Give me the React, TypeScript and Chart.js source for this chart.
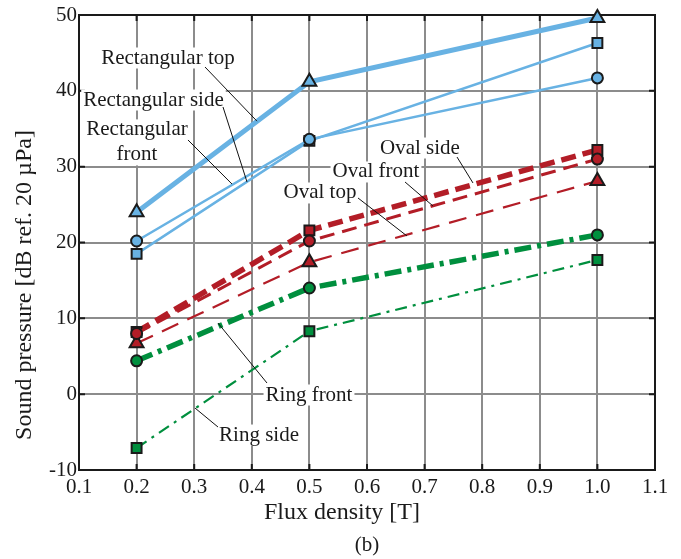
import React, { useEffect, useRef } from "react";
import { Chart, registerables } from "chart.js";

Chart.register(...registerables);

// ---- data ----
const fluxDensity = [0.2, 0.5, 1.0];
const rectTop = [24.0, 41.2, 49.6];
const rectSide = [20.2, 33.6, 41.7];
const rectFront = [18.5, 33.4, 46.3];
const ovalSide = [8.2, 21.6, 32.2];
const ovalFront = [8.0, 20.2, 31.0];
const ovalTop = [6.7, 17.4, 28.1];
const ringFront = [4.4, 14.0, 21.0];
const ringSide = [-7.1, 8.3, 17.7];

const xTicks = [0.1, 0.2, 0.3, 0.4, 0.5, 0.6, 0.7, 0.8, 0.9, 1.0, 1.1];
const yTicks = [-10, 0, 10, 20, 30, 40, 50];

const xTitle = "Flux density [T]";
const yTitle = "Sound pressure [dB ref. 20 \u00B5Pa]";
const subCaption = "(b)";

// annotation labels (data coordinates) with leader lines
const annotations = [
  { text: ["Rectangular top"], x: 0.2545, y: 44.33, from: [0.3188, 43.14], to: [0.409, 36.0] },
  { text: ["Rectangular side"], x: 0.2293, y: 38.79, from: [0.35, 37.87], to: [0.3917, 27.98] },
  { text: ["Rectangular", "front"], x: 0.2007, y: 33.2, from: [0.2892, 33.52], to: [0.3656, 27.71] },
  { text: ["Oval side"], x: 0.692, y: 32.46, from: [0.7563, 31.27], to: [0.784, 27.85] },
  { text: ["Oval front"], x: 0.6156, y: 29.3, from: [0.666, 27.98], to: [0.7146, 24.81] },
  { text: ["Oval top"], x: 0.5184, y: 26.53, from: [0.5844, 25.87], to: [0.6694, 20.86] },
  { text: ["Ring front"], x: 0.4993, y: -0.11, from: [0.4264, 1.47], to: [0.3413, 9.38] },
  { text: ["Ring side"], x: 0.4125, y: -5.39, from: [0.3413, -4.33], to: [0.3014, -1.83] },
];

const BLUE = "#68b2e3";
const RED = "#b31d27";
const GREEN = "#008f3e";
const EDGE = "#1a1a1a";
const FONT = '"Liberation Serif", "Times New Roman", serif';

const pts = (ys: number[]) => fluxDensity.map((x, i) => ({ x, y: ys[i] }));

const overlay = {
  id: "overlay",
  beforeDatasetsDraw(chart: any) {
    const { ctx, chartArea: a, scales } = chart;
    ctx.save();
    ctx.strokeStyle = EDGE;
    ctx.lineWidth = 2;
    ctx.strokeRect(a.left, a.top, a.right - a.left, a.bottom - a.top);
    const L = 6;
    ctx.beginPath();
    for (const v of xTicks) {
      const px = scales.x.getPixelForValue(v);
      ctx.moveTo(px, a.top);
      ctx.lineTo(px, a.top + L);
      ctx.moveTo(px, a.bottom);
      ctx.lineTo(px, a.bottom - L);
    }
    for (const v of yTicks) {
      const py = scales.y.getPixelForValue(v);
      ctx.moveTo(a.left, py);
      ctx.lineTo(a.left + L, py);
      ctx.moveTo(a.right, py);
      ctx.lineTo(a.right - L, py);
    }
    ctx.stroke();
    ctx.restore();
  },
  afterDatasetsDraw(chart: any) {
    const { ctx, chartArea: a, scales } = chart;
    const X = (v: number) => scales.x.getPixelForValue(v);
    const Y = (v: number) => scales.y.getPixelForValue(v);
    ctx.save();
    ctx.font = `21px ${FONT}`;
    ctx.textAlign = "center";
    ctx.textBaseline = "middle";
    const lh = 25;
    for (const an of annotations) {
      const cx = X(an.x);
      const cy = Y(an.y);
      const n = an.text.length;
      const w = Math.max(...an.text.map((t) => ctx.measureText(t).width));
      ctx.fillStyle = "#ffffff";
      ctx.fillRect(cx - w / 2 - 2, cy - (n * lh) / 2 + 2, w + 4, n * lh - 4);
    }
    ctx.strokeStyle = "#111";
    ctx.lineWidth = 1;
    for (const an of annotations) {
      ctx.beginPath();
      ctx.moveTo(X(an.from[0]), Y(an.from[1]));
      ctx.lineTo(X(an.to[0]), Y(an.to[1]));
      ctx.stroke();
    }
    ctx.fillStyle = "#1a1a1a";
    for (const an of annotations) {
      const cx = X(an.x);
      const cy = Y(an.y);
      const n = an.text.length;
      an.text.forEach((t, i) => {
        ctx.fillText(t, cx, cy + (i - (n - 1) / 2) * lh);
      });
    }
    // axis titles
    ctx.font = `24px ${FONT}`;
    ctx.fillText(xTitle, a.left + 263, a.bottom + 43);
    ctx.font = `21px ${FONT}`;
    ctx.fillText(subCaption, (a.left + a.right) / 2, a.bottom + 75);
    ctx.save();
    ctx.font = `24px ${FONT}`;
    ctx.translate(25, a.top + 270);
    ctx.rotate(-Math.PI / 2);
    ctx.fillText(yTitle, 0, 0);
    ctx.restore();
    ctx.restore();
  },
};

export default function App() {
  const ref = useRef<HTMLCanvasElement | null>(null);
  useEffect(() => {
    document.body.style.margin = "0";
    const canvas = ref.current!;
    const base = {
      showLine: true,
      clip: false as any,
      pointBorderColor: EDGE,
      pointBorderWidth: 2,
      pointHoverRadius: 0,
    };
    const chart = new Chart(canvas, {
      type: "line",
      data: {
        datasets: [
          { ...base, label: "Rectangular top", data: pts(rectTop), borderColor: BLUE, backgroundColor: BLUE, borderWidth: 5, pointStyle: "triangle", pointRadius: 8, order: 1 },
          { ...base, label: "Rectangular side", data: pts(rectSide), borderColor: BLUE, backgroundColor: BLUE, borderWidth: 2.5, pointStyle: "circle", pointRadius: 5.5, order: 2 },
          { ...base, label: "Rectangular front", data: pts(rectFront), borderColor: BLUE, backgroundColor: BLUE, borderWidth: 2.5, pointStyle: "rect", pointRadius: 7, order: 3 },
          { ...base, label: "Oval front", data: pts(ovalFront), borderColor: RED, backgroundColor: RED, borderWidth: 3, borderDash: [15, 8], pointStyle: "circle", pointRadius: 5.5, order: 4 },
          { ...base, label: "Oval side", data: pts(ovalSide), borderColor: RED, backgroundColor: RED, borderWidth: 5.5, borderDash: [15, 7], pointStyle: "rect", pointRadius: 7, order: 5 },
          { ...base, label: "Oval top", data: pts(ovalTop), borderColor: RED, backgroundColor: RED, borderWidth: 2.2, borderDash: [18, 10], pointStyle: "triangle", pointRadius: 8, order: 6 },
          { ...base, label: "Ring front", data: pts(ringFront), borderColor: GREEN, backgroundColor: GREEN, borderWidth: 5.5, borderDash: [17, 6, 4, 6], pointStyle: "circle", pointRadius: 5.5, order: 7 },
          { ...base, label: "Ring side", data: pts(ringSide), borderColor: GREEN, backgroundColor: GREEN, borderWidth: 2.2, borderDash: [12, 6, 3, 6], pointStyle: "rect", pointRadius: 7, order: 8 },
        ],
      },
      options: {
        responsive: false,
        animation: false,
        devicePixelRatio: 1,
        events: [],
        layout: { padding: { top: 15, right: 26, left: 0, bottom: 0 } },
        plugins: { legend: { display: false }, tooltip: { enabled: false }, title: { display: false } },
        elements: { line: { tension: 0 } },
        scales: {
          x: {
            type: "linear",
            min: 0.1,
            max: 1.1,
            afterBuildTicks: (s: any) => {
              s.ticks = xTicks.map((v) => ({ value: v }));
            },
            afterFit: (s: any) => {
              s.height = 89;
            },
            grid: { color: "#8c8c8c", lineWidth: 2, drawTicks: false },
            border: { display: true, color: EDGE, width: 2 },
            ticks: {
              padding: 5,
              color: "#1a1a1a",
              font: { family: FONT, size: 21 },
              callback: (v: any) => Number(v).toFixed(1),
              maxRotation: 0,
              autoSkip: false,
            },
          },
          y: {
            type: "linear",
            min: -10,
            max: 50,
            afterBuildTicks: (s: any) => {
              s.ticks = yTicks.map((v) => ({ value: v }));
            },
            afterFit: (s: any) => {
              s.width = 79;
            },
            grid: { color: "#8c8c8c", lineWidth: 2, drawTicks: false },
            border: { display: true, color: EDGE, width: 2 },
            ticks: {
              padding: 2,
              color: "#1a1a1a",
              font: { family: FONT, size: 21 },
              callback: (v: any) => String(v),
              autoSkip: false,
            },
          },
        },
      },
      plugins: [overlay],
    } as any);
    return () => chart.destroy();
  }, []);
  return (
    <div style={{ width: 681, height: 559, background: "#fff" }}>
      <canvas ref={ref} width={681} height={559} style={{ display: "block", width: 681, height: 559 }} />
    </div>
  );
}
